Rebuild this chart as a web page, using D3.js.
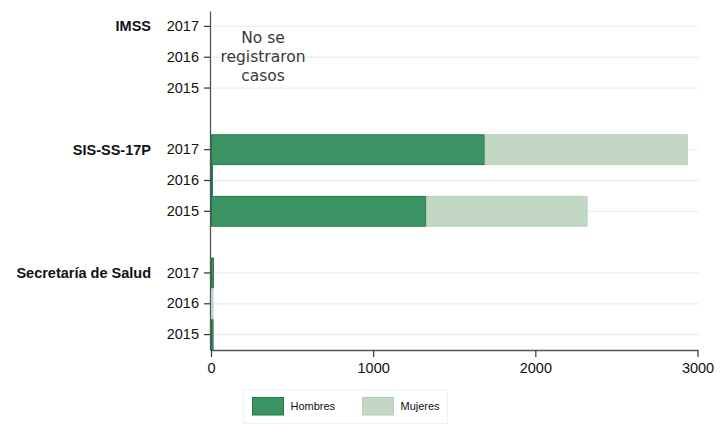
<!DOCTYPE html>
<html><head><meta charset="utf-8">
<script src="https://cdn.jsdelivr.net/npm/d3@7"></script>
<style>body{margin:0;background:#fff}svg{display:block}</style>
</head><body>
<svg id="c" width="727" height="425"></svg>
<script>
const groups = ["IMSS", "SIS-SS-17P", "Secretaría de Salud"];
const years = ["2017", "2016", "2015"];
const series = ["Hombres", "Mujeres"];
// values per group, in year order 2017, 2016, 2015
const hombres = {
  "IMSS": [0, 0, 0],
  "SIS-SS-17P": [1688, 12, 1328],
  "Secretaría de Salud": [18, 3, 16]
};
const mujeres = {
  "IMSS": [0, 0, 0],
  "SIS-SS-17P": [1252, 0, 994],
  "Secretaría de Salud": [2, 12, 4]
};
const xTicks = [0, 1000, 2000, 3000];
const noteLines = ["No se", "registraron", "casos"];

(function () {
const colors = {Hombres: "#3c9464", Mujeres: "#c2d8c4"};
const strokes = {Hombres: "#217a47", Mujeres: "#b5d0b8"};
const FONT = "Liberation Sans, Arial, sans-serif";

const svg = d3.select("#c");
const mLeft = 211, mRight = 697.5, mTop = 11, mBottom = 350;

const slots = [];
groups.forEach((g, gi) => {
  years.forEach(yr => slots.push(g + "|" + yr));
  if (gi < groups.length - 1) slots.push("gap" + gi);
});
const y = d3.scaleBand().domain(slots).range([mTop, mBottom]).padding(0);
const x = d3.scaleLinear().domain([0, 3000]).range([mLeft, mRight]);

const tickSlots = slots.filter(s => !s.startsWith("gap"));
svg.append("g").selectAll("line").data(tickSlots).join("line")
  .attr("x1", mLeft).attr("x2", mRight + 1)
  .attr("y1", d => y(d) + y.bandwidth() / 2).attr("y2", d => y(d) + y.bandwidth() / 2)
  .attr("stroke", "#e9eff3").attr("stroke-width", 1.3);

const rows = [];
groups.forEach(g => years.forEach((yr, i) => {
  const h = hombres[g][i], m = mujeres[g][i];
  rows.push({key: g + "|" + yr, s: "Hombres", x0: 0, x1: h});
  rows.push({key: g + "|" + yr, s: "Mujeres", x0: h, x1: h + m});
}));
svg.append("g").selectAll("rect").data(rows.filter(r => r.x1 > r.x0)).join("rect")
  .attr("x", d => x(d.x0) + 0.5)
  .attr("y", d => y(d.key) + 0.5)
  .attr("width", d => Math.max(0, x(d.x1) - x(d.x0) - 1))
  .attr("height", y.bandwidth() - 1)
  .attr("fill", d => colors[d.s])
  .attr("stroke", d => strokes[d.s]).attr("stroke-width", 1);

const yAxis = svg.append("g").attr("transform", `translate(${mLeft - 1},0)`)
  .call(d3.axisLeft(y).tickValues(tickSlots).tickFormat(d => d.split("|")[1]).tickSizeInner(6).tickSizeOuter(0).tickPadding(5));
yAxis.select(".domain").attr("stroke", "#555").attr("stroke-width", 1.3);
yAxis.selectAll(".tick line").attr("stroke", "#333").attr("stroke-width", 1.2);
yAxis.selectAll(".tick text").attr("font-family", FONT).attr("font-size", 14.5).attr("fill", "#111");

svg.append("g").selectAll("text").data(groups).join("text")
  .attr("x", 151).attr("y", g => y(g + "|2017") + y.bandwidth() / 2)
  .attr("dy", "0.35em").attr("text-anchor", "end")
  .attr("font-family", FONT).attr("font-weight", "bold")
  .attr("font-size", 14.5).attr("fill", "#111").text(d => d);

const xAxis = svg.append("g").attr("transform", `translate(0,${mBottom})`)
  .call(d3.axisBottom(x).tickValues(xTicks).tickFormat(d3.format("d")).tickSizeInner(7).tickSizeOuter(0).tickPadding(6));
xAxis.select(".domain").attr("stroke", "#555").attr("stroke-width", 1.3);
xAxis.selectAll(".tick line").attr("stroke", "#333").attr("stroke-width", 1.2);
xAxis.selectAll(".tick text").attr("font-family", FONT).attr("font-size", 14.5).attr("fill", "#111");

svg.append("text").attr("text-anchor", "middle")
  .attr("font-family", "DejaVu Sans, sans-serif").attr("font-size", 15.5).attr("fill", "#3a3a3a")
  .selectAll("tspan").data(noteLines).join("tspan")
  .attr("x", 263).attr("y", (d, i) => 43 + i * 19).text(d => d);

const lg = svg.append("g");
lg.append("rect").attr("x", 243.5).attr("y", 389.5).attr("width", 204).attr("height", 34)
  .attr("fill", "#fff").attr("stroke", "#eef2f4");
const items = lg.selectAll("g.it").data(series).join("g").attr("class", "it")
  .attr("transform", (d, i) => `translate(${252.5 + i * 110},397.5)`);
items.append("rect").attr("width", 31).attr("height", 17.5)
  .attr("fill", d => colors[d]).attr("stroke", d => strokes[d]);
items.append("text").attr("x", 38).attr("y", 9).attr("dy", "0.35em")
  .attr("font-family", FONT).attr("font-size", 11).attr("fill", "#111")
  .text(d => d);
})();
</script>
</body></html>
